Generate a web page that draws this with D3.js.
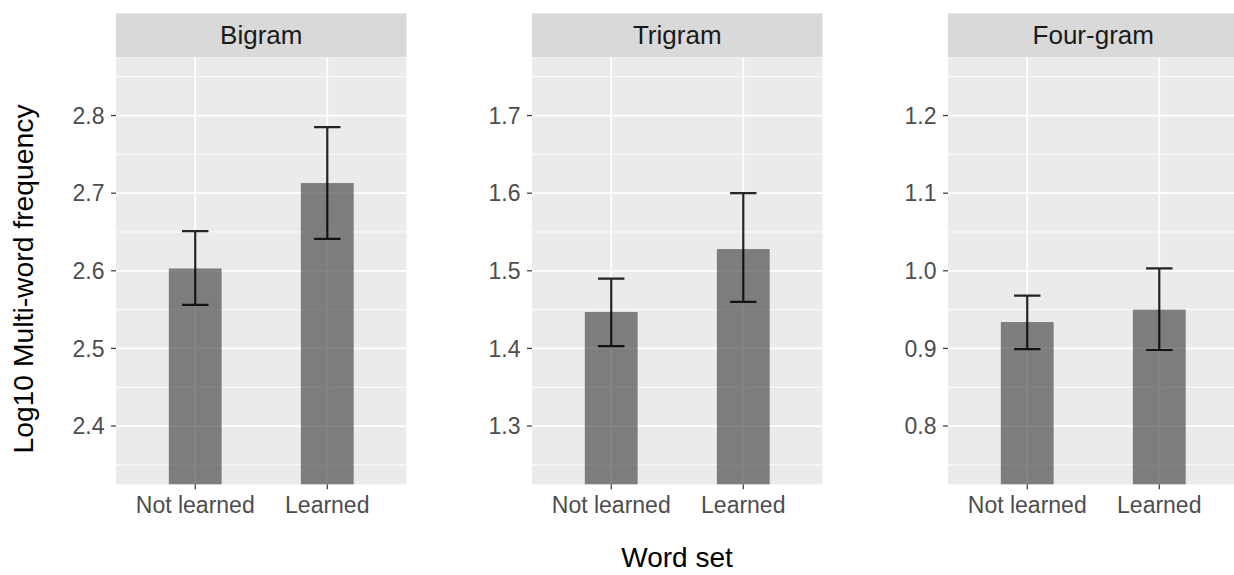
<!DOCTYPE html>
<html>
<head>
<meta charset="utf-8">
<script src="https://cdn.jsdelivr.net/npm/d3@7/dist/d3.min.js"></script>
<style>
  body { margin: 0; background: #fff; }
  svg { display: block; font-family: "Liberation Sans", Arial, Helvetica, sans-serif; }
</style>
</head>
<body>
<svg id="chart" width="1234" height="575"></svg>
<script>
const panels = ['Bigram', 'Trigram', 'Four-gram']
const wordSets = ['Not learned', 'Learned']

// mean log10 frequency per panel, per word set
const means = [[2.603, 2.713], [1.447, 1.528], [0.934, 0.950]]
const lower = [[2.556, 2.641], [1.403, 1.460], [0.899, 0.898]]
const upper = [[2.651, 2.785], [1.490, 1.600], [0.968, 1.003]]

const yLimits = [[2.35, 2.85], [1.25, 1.75], [0.75, 1.25]]
const yTicks = [
  [2.4, 2.5, 2.6, 2.7, 2.8],
  [1.3, 1.4, 1.5, 1.6, 1.7],
  [0.8, 0.9, 1.0, 1.1, 1.2],
]

const panelLefts = [116, 532, 948]
const panelW = 290.5
const stripTop = 13.3
const panelTop = 57.3
const panelBottom = 484.3

const svg = d3.select('#chart')
const fmt = d3.format('.1f')

panels.forEach((name, i) => {
  const x0 = panelLefts[i]
  const [lo, hi] = yLimits[i]
  const pad = (hi - lo) * 0.05

  const x = d3.scalePoint()
    .domain(wordSets)
    .range([x0, x0 + panelW])
    .padding(0.6)
  const y = d3.scaleLinear()
    .domain([lo - pad, hi + pad])
    .range([panelBottom, panelTop])

  const g = svg.append('g')

  // strip
  g.append('rect')
    .attr('x', x0).attr('y', stripTop)
    .attr('width', panelW).attr('height', panelTop - stripTop)
    .attr('fill', '#d9d9d9')
  g.append('text')
    .attr('x', x0 + panelW / 2).attr('y', 44.3)
    .attr('text-anchor', 'middle')
    .attr('font-size', 26)
    .attr('fill', '#1a1a1a')
    .text(name)

  // panel background
  g.append('rect')
    .attr('x', x0).attr('y', panelTop)
    .attr('width', panelW).attr('height', panelBottom - panelTop)
    .attr('fill', '#ebebeb')

  const minor = d3.range(yTicks[i].length + 1).map((k) => yTicks[i][0] - 0.05 + k * 0.1)
  g.append('g').selectAll('line')
    .data(minor)
    .join('line')
    .attr('x1', x0).attr('x2', x0 + panelW)
    .attr('y1', (d) => y(d)).attr('y2', (d) => y(d))
    .attr('stroke', '#fff').attr('stroke-width', 0.9)

  g.append('g').selectAll('line')
    .data(yTicks[i])
    .join('line')
    .attr('x1', x0).attr('x2', x0 + panelW)
    .attr('y1', (d) => y(d)).attr('y2', (d) => y(d))
    .attr('stroke', '#fff').attr('stroke-width', 1.8)

  g.append('g').selectAll('line')
    .data(wordSets)
    .join('line')
    .attr('x1', (d) => x(d)).attr('x2', (d) => x(d))
    .attr('y1', panelTop).attr('y2', panelBottom)
    .attr('stroke', '#fff').attr('stroke-width', 1.8)

  const rows = wordSets.map((w, j) => ({ w, m: means[i][j], lo: lower[i][j], hi: upper[i][j] }))
  const barW = x.step() * 0.4
  const capW = x.step() * 0.2

  // bars, clipped at the panel bottom like coord_cartesian
  g.append('g').selectAll('rect')
    .data(rows)
    .join('rect')
    .attr('x', (d) => x(d.w) - barW / 2)
    .attr('y', (d) => y(d.m))
    .attr('width', barW)
    .attr('height', (d) => panelBottom - y(d.m))
    .attr('fill', '#333')
    .attr('fill-opacity', 0.6)

  const eb = g.append('g')
    .attr('stroke', '#000').attr('stroke-opacity', 0.85)
    .attr('stroke-width', 2.2).attr('fill', 'none')
  eb.selectAll('path')
    .data(rows)
    .join('path')
    .attr('d', (d) => {
      const cx = x(d.w)
      return `M${cx - capW / 2},${y(d.hi)}H${cx + capW / 2}` +
        `M${cx},${y(d.hi)}V${y(d.lo)}` +
        `M${cx - capW / 2},${y(d.lo)}H${cx + capW / 2}`
    })

  // y axis
  const ya = g.append('g')
  ya.selectAll('line')
    .data(yTicks[i])
    .join('line')
    .attr('x1', x0 - 5).attr('x2', x0)
    .attr('y1', (d) => y(d)).attr('y2', (d) => y(d))
    .attr('stroke', '#333').attr('stroke-width', 1.2)
  ya.selectAll('text')
    .data(yTicks[i])
    .join('text')
    .attr('x', x0 - 11.5).attr('y', (d) => y(d))
    .attr('dy', '0.36em')
    .attr('text-anchor', 'end')
    .attr('font-size', 23)
    .attr('fill', '#4d4d4d')
    .text((d) => fmt(d))

  // x axis
  const xa = g.append('g')
  xa.selectAll('line')
    .data(wordSets)
    .join('line')
    .attr('x1', (d) => x(d)).attr('x2', (d) => x(d))
    .attr('y1', panelBottom).attr('y2', panelBottom + 5)
    .attr('stroke', '#333').attr('stroke-width', 1.2)
  xa.selectAll('text')
    .data(wordSets)
    .join('text')
    .attr('x', (d) => x(d)).attr('y', 512.7)
    .attr('text-anchor', 'middle')
    .attr('font-size', 23)
    .attr('fill', '#4d4d4d')
    .text((d) => d)
})

svg.append('text')
  .attr('x', 677).attr('y', 567)
  .attr('text-anchor', 'middle')
  .attr('font-size', 28)
  .attr('fill', '#000')
  .text('Word set')

svg.append('text')
  .attr('transform', 'translate(33,279) rotate(-90)')
  .attr('text-anchor', 'middle')
  .attr('font-size', 28.3)
  .attr('fill', '#000')
  .text('Log10 Multi-word frequency')
</script>
</body>
</html>
